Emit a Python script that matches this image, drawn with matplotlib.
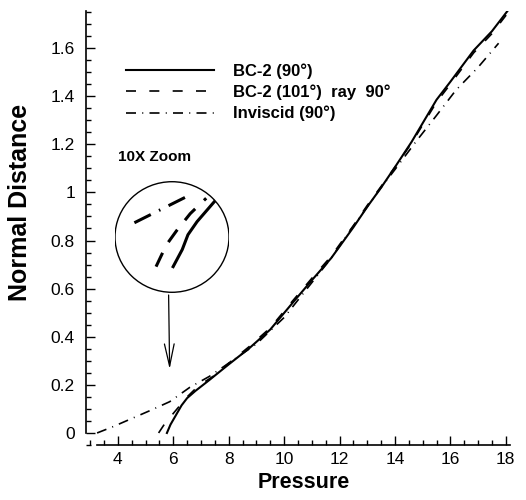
import matplotlib
matplotlib.use("Agg")
import matplotlib.pyplot as plt
from matplotlib.patches import Ellipse
from matplotlib.ticker import MultipleLocator

plt.rcParams['font.family'] = ['Liberation Sans', 'DejaVu Sans']

# main curves (pressure, normal distance)
p_bc2_90 = [5.77, 5.9, 6.1, 6.3, 6.5, 6.8, 7.3, 8.0, 8.75, 9.5, 10.3, 11.0, 11.7,
            12.0, 12.5, 13.0, 13.5, 14.0, 14.6, 15.5, 16.0, 16.84, 17.5, 18.1]
y_bc2_90 = [0.0, 0.035, 0.075, 0.115, 0.145, 0.175, 0.22, 0.285, 0.353, 0.43, 0.54,
            0.635, 0.727, 0.775, 0.855, 0.94, 1.02, 1.105, 1.21, 1.385, 1.46, 1.59,
            1.67, 1.76]

p_bc2_101 = [5.47, 5.7, 6.1, 6.5, 6.9, 7.5, 8.0, 8.75, 9.5, 10.3, 11.0, 11.7, 12.0,
             12.5, 13.0, 13.5, 14.0, 14.6, 15.5, 16.0, 16.84, 17.5, 18.1]
y_bc2_101 = [0.0, 0.04, 0.095, 0.15, 0.195, 0.24, 0.29, 0.36, 0.437, 0.548, 0.643,
             0.735, 0.783, 0.862, 0.946, 1.025, 1.105, 1.205, 1.375, 1.45, 1.58,
             1.66, 1.75]

p_invisc = [3.25, 3.8, 4.5, 5.2, 5.87, 6.6, 7.3, 8.0, 9.0, 10.0, 11.0, 11.7, 12.5,
            13.5, 14.0, 14.75, 15.5, 16.2, 17.0, 17.74]
y_invisc = [0.0, 0.025, 0.06, 0.095, 0.13, 0.19, 0.235, 0.29, 0.37, 0.48, 0.625,
            0.727, 0.86, 1.02, 1.095, 1.21, 1.32, 1.425, 1.52, 1.62]

labels = ['BC-2 (90°)', 'BC-2 (101°)  ray  90°', 'Inviscid (90°)']

# 10X zoom inset curves (inset axes fraction coordinates)
zx_invisc = [0.17, 0.62]
zy_invisc = [0.625, 0.85]
zx_bc2_101 = [0.36, 0.45, 0.54, 0.66, 0.80]
zy_bc2_101 = [0.24, 0.43, 0.555, 0.705, 0.84]
zx_bc2_90 = [0.51, 0.59, 0.64, 0.72, 0.88, 0.95]
zy_bc2_90 = [0.24, 0.39, 0.52, 0.635, 0.82, 0.90]

dashed = (0, (6, 8))
dashdot = (0, (6, 3.75, 0.6, 3.75))

fig = plt.figure(figsize=(5.26, 5.0), dpi=100)
ax = fig.add_axes([0.1635, 0.11, 0.806, 0.868])

ax.plot(p_bc2_90, y_bc2_90, color='black', lw=1.5, ls='-', label=labels[0])
ax.plot(p_bc2_101, y_bc2_101, color='black', lw=1.2, ls=dashed, label=labels[1])
ax.plot(p_invisc, y_invisc, color='black', lw=1.2, ls=dashdot, label=labels[2])

ax.set_xlim(2.85, 18.15)
ax.set_ylim(-0.05, 1.754)
ax.spines['top'].set_visible(False)
ax.spines['right'].set_visible(False)
ax.spines['left'].set_bounds(0, 1.754)
ax.spines['bottom'].set_bounds(3.25, 18.15)
for s in ('left', 'bottom'):
    ax.spines[s].set_linewidth(1.2)

ax.xaxis.set_minor_locator(MultipleLocator(0.5))
ax.yaxis.set_minor_locator(MultipleLocator(0.05))
ax.set_xticks([4, 6, 8, 10, 12, 14, 16, 18])
ax.set_xticklabels(['4', '6', '8', '10', '12', '14', '16', '18'])
ax.set_yticks([0, 0.2, 0.4, 0.6, 0.8, 1.0, 1.2, 1.4, 1.6])
ax.set_yticklabels(['0', '0.2', '0.4', '0.6', '0.8', '1', '1.2', '1.4', '1.6'])
ax.tick_params(which='both', direction='in', width=1.0, labelsize=12.5)
ax.tick_params(which='major', length=6.5)
ax.tick_params(which='minor', length=3.5)
ax.tick_params(axis='y', pad=8)
ax.tick_params(axis='x', pad=5)

ax.set_xlabel('Pressure', fontsize=15.5, fontweight='bold')
ax.set_ylabel('Normal Distance', fontsize=18, fontweight='bold')
ax.xaxis.set_label_coords(0.514, -0.062)
ax.yaxis.set_label_coords(-0.156, 0.558)
ax.yaxis.label.set_va('center')

leg = ax.legend(loc='upper left', bbox_to_anchor=(126 / 526, 1 - 63 / 500),
                bbox_transform=fig.transFigure, frameon=False, borderpad=0,
                borderaxespad=0, handlelength=5.3, handletextpad=1.1,
                labelspacing=0.35, prop={'weight': 'bold', 'size': 12})

fig.text(118 / 526, 1 - 157 / 500, '10X Zoom', fontsize=11, fontweight='bold',
         va='center', ha='left')

# arrow from zoom circle to the region
ax.annotate('', xy=(5.87, 0.254), xytext=(5.83, 0.585),
            arrowprops=dict(arrowstyle='->,head_length=1.6,head_width=0.35',
                            color='black', lw=0.9))

# zoom inset
axz = fig.add_axes([115 / 526, 1 - 294 / 500, 114 / 526, 114 / 500])
axz.set_xlim(0, 1)
axz.set_ylim(0, 1)
axz.axis('off')
circ = Ellipse((0.5, 0.5), 1.0, 0.97, fill=False, lw=1.0, color='black',
               transform=axz.transAxes)
axz.add_patch(circ)
for zx, zy, ls, lw in [(zx_bc2_90, zy_bc2_90, '-', 2.2),
                       (zx_bc2_101, zy_bc2_101, (0, (5, 4)), 2.2),
                       (zx_invisc, zy_invisc, (0, (6, 3, 0.5, 3)), 2.2)]:
    ln, = axz.plot(zx, zy, color='black', lw=lw, ls=ls)
    ln.set_clip_path(circ)

fig.savefig('out.png', dpi=100)
